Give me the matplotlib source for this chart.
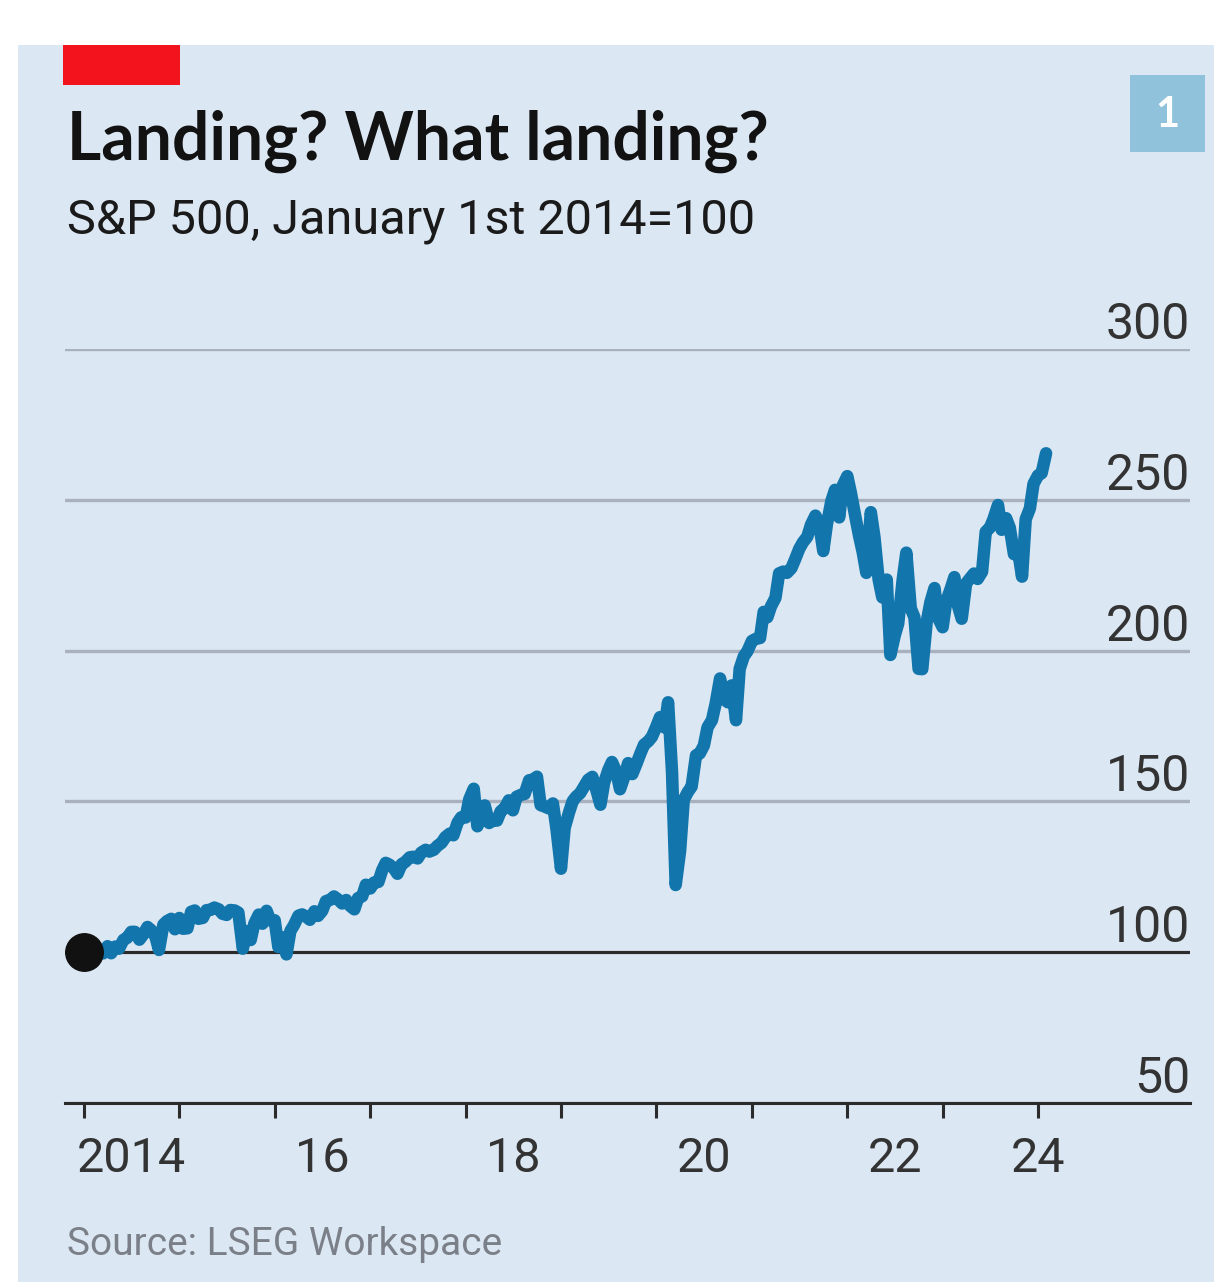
import pandas as pd
import matplotlib.pyplot as plt
import matplotlib.dates as mdates
from matplotlib.patches import Rectangle

# S&P 500 closes, 1st and 15th of each month
dates = pd.date_range('2014-01-01', '2024-02-01', freq='SMS')
spx_2014 = [1848, 1848, 1782, 1838, 1859, 1841, 1885, 1842, 1883, 1870, 1924, 1936,
            1973, 1973, 1925, 1955, 2003, 1984, 1946, 1862, 2018, 2039, 2053, 1989]
spx_2015 = [2058, 1992, 1995, 2096, 2104, 2053, 2059, 2106, 2108, 2122, 2111, 2084,
            2077, 2107, 2104, 2091, 1870, 1978, 1923, 2023, 2079, 2023, 2102, 2043]
spx_2016 = [2044, 1880, 1940, 1835, 1978, 2015, 2072, 2080, 2065, 2047, 2099, 2071,
            2102, 2161, 2170, 2190, 2170, 2147, 2168, 2133, 2111, 2180, 2191, 2262]
spx_2017 = [2239, 2275, 2279, 2349, 2396, 2385, 2363, 2329, 2388, 2402, 2430, 2433,
            2423, 2459, 2476, 2465, 2476, 2500, 2519, 2553, 2575, 2565, 2642, 2675]
spx_2018 = [2674, 2786, 2850, 2620, 2678, 2748, 2640, 2656, 2655, 2711, 2735, 2779,
            2718, 2801, 2813, 2818, 2902, 2905, 2924, 2750, 2740, 2730, 2760, 2600]
spx_2019 = [2360, 2610, 2706, 2775, 2803, 2822, 2867, 2905, 2923, 2850, 2752, 2886,
            2964, 3014, 2953, 2847, 2926, 3007, 2940, 2995, 3066, 3120, 3141, 3168]
spx_2020 = [3231, 3289, 3226, 3380, 2954, 2260, 2470, 2783, 2831, 2863, 3055, 3066,
            3115, 3226, 3271, 3372, 3526, 3401, 3380, 3483, 3270, 3585, 3662, 3694]
spx_2021 = [3756, 3768, 3774, 3934, 3901, 3968, 4020, 4170, 4181, 4173, 4202, 4255,
            4320, 4360, 4395, 4468, 4524, 4480, 4307, 4471, 4613, 4682, 4513, 4709]
spx_2022 = [4766, 4662, 4516, 4401, 4300, 4173, 4545, 4392, 4132, 4023, 4132, 3670,
            3785, 3863, 4130, 4297, 3955, 3901, 3585, 3583, 3872, 3992, 4080, 3896]
spx_2023 = [3840, 3999, 4077, 4147, 3970, 3892, 4109, 4137, 4169, 4136, 4180, 4425,
            4450, 4505, 4589, 4437, 4508, 4450, 4288, 4327, 4150, 4502, 4568, 4719]
spx_2024 = [4770, 4784, 4906]
spx = spx_2014 + spx_2015 + spx_2016 + spx_2017 + spx_2018 + spx_2019 + spx_2020 \
    + spx_2021 + spx_2022 + spx_2023 + spx_2024
base = 1848.36  # close on Jan 1st 2014
rebased = [v / base * 100 for v in spx]

yticks = [50, 100, 150, 200, 250, 300]
year_ticks = pd.date_range('2014-01-01', '2024-01-01', freq='YS')
label_dates = pd.to_datetime(['2014-07-01', '2016-07-01', '2018-07-01',
                              '2020-07-01', '2022-07-01', '2024-01-01'])
label_text = ['2014', '16', '18', '20', '22', '24']

W, H = 1214, 1282
fig = plt.figure(figsize=(W / 100, H / 100), dpi=100)
fig.patch.set_facecolor('white')

# background panel, red tag, number box
fig.add_artist(Rectangle((18 / W, 0), 1 - 18 / W, 1 - 45 / H, transform=fig.transFigure,
                         facecolor='#dbe7f3', edgecolor='none', zorder=0))
fig.add_artist(Rectangle((63 / W, 1 - 85 / H), 117 / W, 40 / H, transform=fig.transFigure,
                         facecolor='#f2131c', edgecolor='none', zorder=1))
fig.add_artist(Rectangle((1130 / W, 1 - 152 / H), 75 / W, 77 / H, transform=fig.transFigure,
                         facecolor='#90c2dc', edgecolor='none', zorder=1))
fig.text(1167 / W, 1 - 115 / H, '1', color='white', fontsize=30, fontweight='bold',
         family='Lato', ha='center', va='center')

fig.text(67 / W, 1 - 160 / H, 'Landing? What landing?', fontsize=47.5, fontweight='bold',
         family='Lato', color='#121212', va='baseline')
narrow = ['Roboto']
fig.text(67 / W, 1 - 233 / H, 'S&P 500, January 1st 2014=100', fontsize=35,
         family=narrow, color='#1a1a1a', va='baseline')
fig.text(67 / W, 1 - 1255 / H, 'Source: LSEG Workspace', fontsize=28,
         family=narrow, color='#7b8088', va='baseline')

ax = fig.add_axes([65 / W, 1 - 1103 / H, (1190 - 65) / W, (1103 - 349) / H])
ax.set_facecolor('none')
day_px = 365.25 / 95.4
x0 = mdates.date2num(pd.Timestamp('2014-01-01'))
x1 = mdates.date2num(pd.Timestamp('2024-01-01'))
ax.set_xlim(x0 - 19 * day_px, x1 + 152 * day_px)
ax.set_ylim(50, 300)

ax.plot(dates, rebased, color='#1275ab', lw=9, solid_joinstyle='round',
        solid_capstyle='round', zorder=3, clip_on=False)
ax.plot(dates[0], rebased[0], 'o', color='#111111', ms=27, zorder=4, clip_on=False)
ax.axhline(100, color='#2b2b2b', lw=2.2, zorder=2)

ax.set_yticks(yticks)
ax.grid(axis='y', color='#a9b0be', lw=2.4, zorder=1)
ax.yaxis.tick_right()
ax.tick_params(axis='y', length=0, pad=0, labelsize=36, labelcolor='#333333')
for lab in ax.get_yticklabels():
    lab.set_ha('right')
    lab.set_va('bottom')
    lab.set_family(narrow)

ax.xaxis.remove_overlapping_locs = False
ax.set_xticks(year_ticks)
ax.set_xticklabels([])
ax.set_xticks(label_dates, minor=True)
ax.set_xticklabels(label_text, minor=True, family=narrow)
ax.tick_params(axis='x', which='major', length=11, width=2.2, color='#2b2b2b', direction='out')
ax.tick_params(axis='x', which='minor', length=0, pad=24, labelsize=35, labelcolor='#333333')

for s in ['left', 'right', 'top']:
    ax.spines[s].set_visible(False)
ax.spines['bottom'].set_color('#2b2b2b')
ax.spines['bottom'].set_linewidth(2.2)

plt.savefig('out.png', dpi=100)
